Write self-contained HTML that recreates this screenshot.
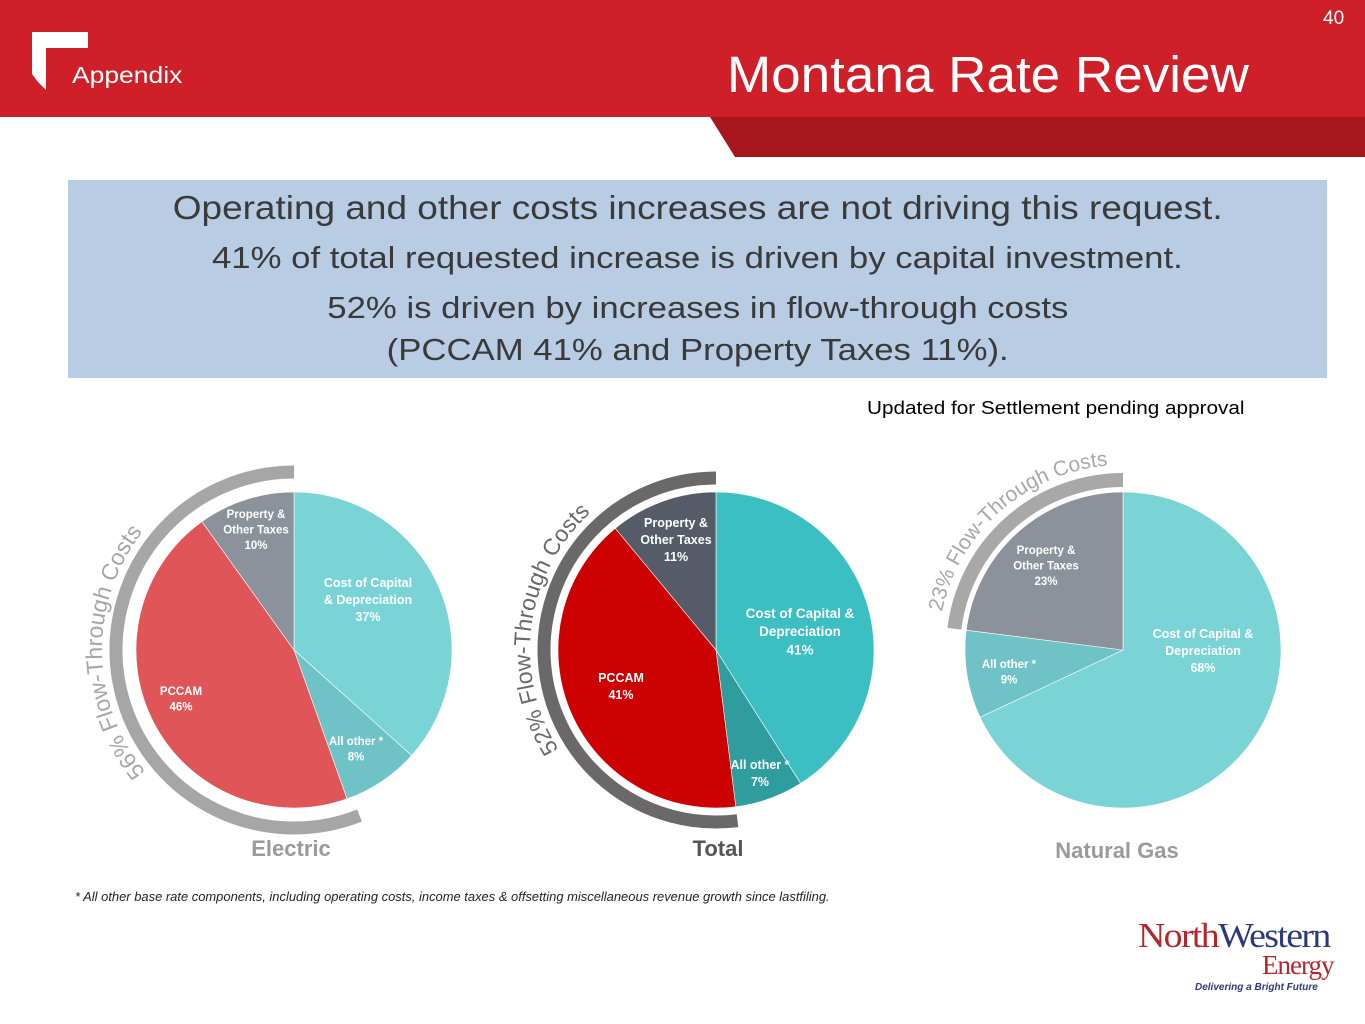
<!DOCTYPE html>
<html><head><meta charset="utf-8">
<style>
html,body{margin:0;padding:0;width:1365px;height:1024px;overflow:hidden;background:#fff;font-family:"Liberation Sans",sans-serif}
#hdr{position:absolute;left:0;top:0;width:1365px;height:117px;background:#cf1f28}
#band{position:absolute;left:0;top:117px;width:1365px;height:40px}
.t{position:absolute;white-space:nowrap;transform-origin:0 0}
#box{position:absolute;left:68px;top:180px;width:1259px;height:198px;background:#b8cce4;color:#3a3a3a}
.bl{position:absolute;left:0;width:1259px;text-align:center;white-space:nowrap}
.bl span{display:inline-block;transform:scaleX(1.12)}
</style></head><body>
<div id="hdr"></div>
<svg id="band" width="1365" height="40"><polygon points="710,0 1365,0 1365,40 735,40" fill="#a8161d"/></svg>
<svg style="position:absolute;left:28px;top:30px" width="64" height="62"><polygon points="4,2 60,2 60,18 18,18 18,60 10,52 4,44" fill="#fff"/></svg>
<div class="t" style="left:72px;top:62px;font-size:23px;color:#fff;transform:scaleX(1.15)">Appendix</div>
<div class="t" style="left:727px;top:45px;font-size:51px;color:#fff;transform:scaleX(1.04)">Montana Rate Review</div>
<div class="t" style="left:1323px;top:8px;font-size:19px;color:#fff">40</div>
<div id="box">
<div class="bl" style="top:9px;font-size:33px"><span>Operating and other costs increases are not driving this request.</span></div>
<div class="bl" style="top:60px;font-size:31px"><span>41% of total requested increase is driven by capital investment.</span></div>
<div class="bl" style="top:110px;font-size:31px"><span>52% is driven by increases in flow-through costs</span></div>
<div class="bl" style="top:152px;font-size:31px"><span>(PCCAM 41% and Property Taxes 11%).</span></div>
</div>
<div class="t" style="left:867px;top:398px;font-size:18px;color:#000;transform:scaleX(1.15)">Updated for Settlement pending approval</div>
<svg id="pies" style="position:absolute;left:0;top:0" width="1365" height="1024"></svg>
<div class="t" style="left:75px;top:890px;font-size:12.5px;font-style:italic;color:#222;transform:scaleX(1.035)">* All other base rate components, including operating costs, income taxes &amp; offsetting miscellaneous revenue growth since lastfiling.</div>
<div class="t" style="left:1138px;top:916px;font-size:35px;font-family:'Liberation Serif',serif;letter-spacing:-1.5px;transform:scaleX(1.08)"><span style="color:#b5252b">North</span><span style="color:#2a3a7a">Western</span></div>
<div class="t" style="left:1262px;top:950px;font-size:27px;font-family:'Liberation Serif',serif;color:#b5252b;letter-spacing:-1px">Energy</div>
<div class="t" style="left:1195px;top:982px;font-size:10px;font-weight:bold;font-style:italic;color:#2a3a7a">Delivering a Bright Future</div>
<script>
const elecCats=["Cost of Capital & Depreciation","All other *","PCCAM","Property & Other Taxes"];
const elecVals=[37,8,46,10];
const totalCats=["Cost of Capital & Depreciation","All other *","PCCAM","Property & Other Taxes"];
const totalVals=[41,7,41,11];
const gasCats=["Cost of Capital & Depreciation","All other *","Property & Other Taxes"];
const gasVals=[68,9,23];
const flowLabels=["56% Flow-Through Costs","52% Flow-Through Costs","23% Flow-Through Costs"];
const flowShares=[56,52,23];

const NS="http://www.w3.org/2000/svg";
const svg=document.getElementById('pies');
function mk(tag,attrs,parent){const e=document.createElementNS(NS,tag);for(const k in attrs)e.setAttribute(k,attrs[k]);(parent||svg).appendChild(e);return e;}
function pt(cx,cy,r,a){return [cx+r*Math.sin(a),cy-r*Math.cos(a)];}
function angScale(v,tot){return v/tot*2*Math.PI;}
function slice(cx,cy,r,a0,a1,fill){
  const p0=pt(cx,cy,r,a0),p1=pt(cx,cy,r,a1),lg=(a1-a0)>Math.PI?1:0;
  return mk('path',{d:`M${cx},${cy}L${p0[0]},${p0[1]}A${r},${r} 0 ${lg} 1 ${p1[0]},${p1[1]}Z`,fill:fill,stroke:'#fff','stroke-width':0.6});
}
function drawPie(cx,cy,r,cats,vals,colors,name){
  const tot=vals.reduce((a,b)=>a+b,0);let a=0;
  vals.forEach((v,i)=>{const a1=a+angScale(v,tot);const e=slice(cx,cy,r,a,a1,colors[i]);
    
    
    a=a1;});
}
function drawArc(cx,cy,r,w,share,color,label,name,id,fs,off,tr){
  const a1=0,a0=-angScale(share,100);
  const p0=pt(cx,cy,r,a0),p1=pt(cx,cy,r,a1),lg=(a1-a0)>Math.PI?1:0;
  const e=mk('path',{d:`M${p0[0]},${p0[1]}A${r},${r} 0 ${lg} 1 ${p1[0]},${p1[1]}`,fill:'none',stroke:color,'stroke-width':w});
  
  
  const rt=tr||(r+w/2+6);const q0=pt(cx,cy,rt,a0),q1=pt(cx,cy,rt,a1);
  mk('path',{id:id,d:`M${q0[0]},${q0[1]}A${rt},${rt} 0 ${lg} 1 ${q1[0]},${q1[1]}`,fill:'none'});
  const t=mk('text',{'font-size':fs,fill:color,'font-family':'Liberation Sans, sans-serif'});
  
  
  const tp=mk('textPath',{href:'#'+id,startOffset:off,'text-anchor':'middle'},t);tp.textContent=label;
}
function lbl(x,y,lines,size,name,color){
  const t=mk('text',{x:x,y:y,'font-size':size,'font-weight':'bold',fill:color||'#fff','text-anchor':'middle','font-family':'Liberation Sans, sans-serif'});
  
  
  lines.forEach((l,i)=>{const s=mk('tspan',{x:x,dy:i?size*1.35:0},t);s.textContent=l;});
}
drawArc(294,650,178,13,flowShares[0],'#a6a6a6',flowLabels[0],'electric','arcE',23,'55%',192);
drawPie(294,650,158,elecCats,elecVals,['#7ad4d6','#6fc3c6','#e05558','#8c929b'],'electric');
lbl(368,587,['Cost of Capital','& Depreciation',elecVals[0]+'%'],12.5,'electric-label-capital');
lbl(356,745,['All other *',elecVals[1]+'%'],11.5,'electric-label-other');
lbl(181,695,['PCCAM',elecVals[2]+'%'],11.5,'electric-label-pccam');
lbl(256,518,['Property &','Other Taxes',elecVals[3]+'%'],11.5,'electric-label-property');
lbl(291,856,['Electric'],22,'electric-title','#9a9a9a');
drawArc(716,650,172,13,flowShares[1],'#6b6869',flowLabels[1],'total','arcT',23,'56%',186);
drawPie(716,650,158,totalCats,totalVals,['#3bbfc2','#2f9c9e','#cc0000','#555c68'],'total');
lbl(800,618,['Cost of Capital &','Depreciation',totalVals[0]+'%'],13.5,'total-label-capital');
lbl(760,769,['All other *',totalVals[1]+'%'],12.5,'total-label-other');
lbl(621,682,['PCCAM',totalVals[2]+'%'],12.5,'total-label-pccam');
lbl(676,527,['Property &','Other Taxes',totalVals[3]+'%'],12.5,'total-label-property');
lbl(718,856,['Total'],22,'total-title','#555');
drawArc(1123,650,170,14,flowShares[2],'#a8a8a8',flowLabels[2],'gas','arcG',21,'50%',185);
drawPie(1123,650,158,gasCats,gasVals,['#7ad4d6','#6fc3c6','#8c929b'],'gas');
lbl(1203,638,['Cost of Capital &','Depreciation',gasVals[0]+'%'],12.5,'gas-label-capital');
lbl(1009,668,['All other *',gasVals[1]+'%'],11.5,'gas-label-other');
lbl(1046,554,['Property &','Other Taxes',gasVals[2]+'%'],11.5,'gas-label-property');
lbl(1117,858,['Natural Gas'],22,'gas-title','#9a9a9a');
</script>
</body></html>
